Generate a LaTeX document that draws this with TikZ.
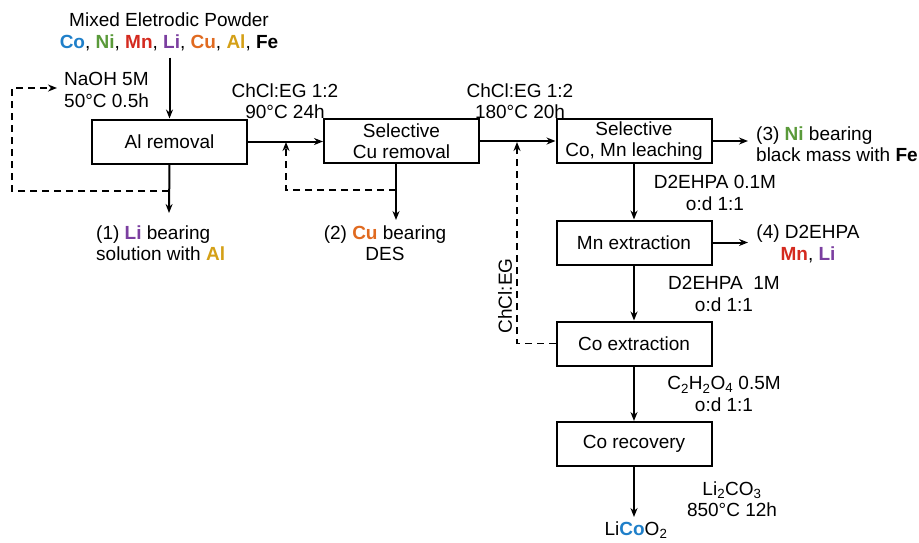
\documentclass[tikz,border=0pt]{standalone}
\usepackage{fontspec}
\setmainfont{Liberation Sans}
\usetikzlibrary{arrows.meta}
\definecolor{cCo}{HTML}{1F7FC9}
\definecolor{cNi}{HTML}{5A9A3A}
\definecolor{cMn}{HTML}{D42A1F}
\definecolor{cLi}{HTML}{7B3FA0}
\definecolor{cCu}{HTML}{E06A20}
\definecolor{cAl}{HTML}{D4A017}
\newcommand{\el}[2]{\textbf{\color{#1}#2}}
\begin{document}
\begin{tikzpicture}[x=1pt,y=-1pt,
  font=\fontsize{19}{21.5}\selectfont,
  procbox/.style={draw, line width=2pt, minimum width=155pt, minimum height=44pt, inner sep=0pt, align=center},
  txt/.style={inner sep=0pt, align=center},
  arr/.style={line width=2pt, -{Stealth[length=9pt,width=7pt]}},
  darr/.style={line width=1.8pt, dash pattern=on 7pt off 5pt, -{Stealth[length=9pt,width=7pt]}}]
\useasboundingbox (0,0) rectangle (919,542);

% process boxes
\node[procbox] (al) at (169.5,141.5) {Al removal};
\node[procbox] (cu) at (401.5,141) {Selective\\Cu removal};
\node[procbox] (lea) at (634,141) {Selective\\Co, Mn leaching};
\node[procbox] (mn) at (634,242.5) {Mn extraction};
\node[procbox] (coe) at (634,343.5) {Co extraction};
\node[procbox] (cor) at (634,444) {Co recovery};

% texts
\node[txt] (powder) at (169,32) {Mixed Eletrodic Powder\\[1pt]\el{cCo}{Co}, \el{cNi}{Ni}, \el{cMn}{Mn}, \el{cLi}{Li}, \el{cCu}{Cu}, \el{cAl}{Al}, \textbf{Fe}};
\node[txt, anchor=west, align=left] (naoh) at (64,90) {NaOH 5M\\50°C 0.5h};
\node[txt] (l1) at (285,101) {ChCl:EG 1:2\\90°C 24h};
\node[txt] (l2) at (520,101) {ChCl:EG 1:2\\180°C 20h};
\node[txt, anchor=west, align=left] (out1) at (96,243) {(1) \el{cLi}{Li} bearing\\solution with \el{cAl}{Al}};
\node[txt] (out2) at (385,243) {(2) \el{cCu}{Cu} bearing\\DES};
\node[txt, anchor=west, align=left] (out3) at (756,144) {(3) \el{cNi}{Ni} bearing\\black mass with \textbf{Fe}};
\node[txt] (out4) at (808,244) {(4) D2EHPA\\\el{cMn}{Mn}, \el{cLi}{Li}};
\node[txt] (l3) at (715,193) {D2EHPA 0.1M\\o:d 1:1};
\node[txt] (l4) at (724,294) {D2EHPA\ \ 1M\\o:d 1:1};
\node[txt] (l5) at (724,394) {C\textsubscript{2}H\textsubscript{2}O\textsubscript{4} 0.5M\\o:d 1:1};
\node[txt] (l6) at (732,499) {Li\textsubscript{2}CO\textsubscript{3}\\850°C 12h};
\node[txt] (prod) at (636,530) {Li\el{cCo}{Co}O\textsubscript{2}};
\node[txt, rotate=90] (chcl) at (505,296) {ChCl:EG};

% coordinates
\coordinate (o1) at (169,213);
\coordinate (o2) at (396,220);
\coordinate (o3) at (748,141);
\coordinate (o4) at (748,242.5);
\coordinate (pend) at (634,517);
\coordinate (d1a) at (169,191);
\coordinate (d1b) at (12,191);
\coordinate (d1c) at (12,88);
\coordinate (d1d) at (57,88);
\coordinate (d2a) at (396,190);
\coordinate (d2b) at (286,190);
\coordinate (d2c) at (286,142);
\coordinate (d3a) at (517,343.5);
\coordinate (d3b) at (517,142);

% solid connectors
\draw[arr] (powder.south -| al.north) ++(0,6) -- (al.north);
\draw[arr] (al.east) -- (cu.west |- al.east);
\draw[arr] (cu.east) -- (lea.west);
\draw[arr] (al.south) -- (o1);
\draw[arr] (cu.south -| o2) -- (o2);
\draw[arr] (lea.east) -- (o3);
\draw[arr] (mn.east) -- (o4);
\draw[arr] (lea.south) -- (mn.north);
\draw[arr] (mn.south) -- (coe.north);
\draw[arr] (coe.south) -- (cor.north);
\draw[arr] (cor.south) -- (pend);

% dashed recycles
\draw[darr] (d1a) -- (d1b) -- (d1c) -- (d1d);
\draw[darr] (d2a) -- (d2b) -- (d2c);
\draw[darr] (coe.west) -- (d3a) -- (d3b);
\end{tikzpicture}
\end{document}
